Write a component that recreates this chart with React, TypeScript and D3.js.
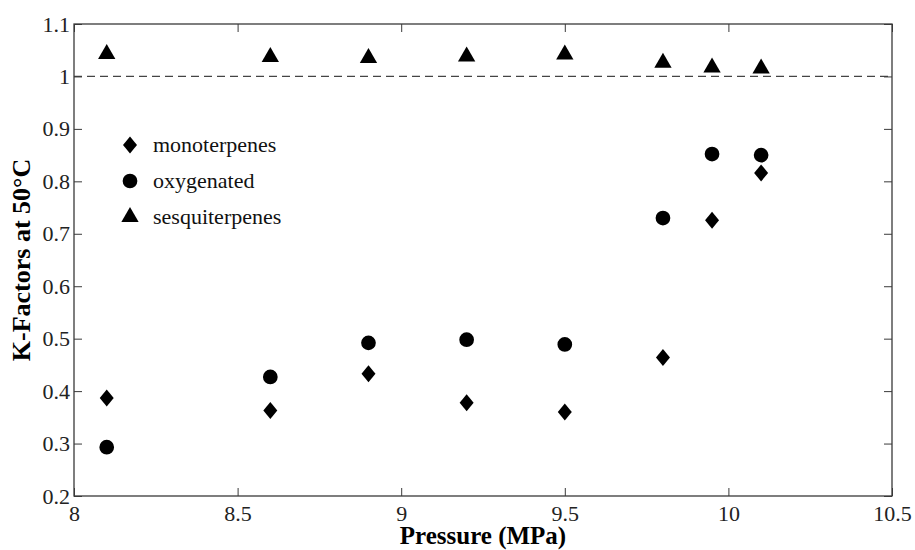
import { useEffect, useRef } from 'react';
import * as d3 from 'd3';

// pressure (MPa) for every measurement
const pressures = [8.1, 8.6, 8.9, 9.2, 9.5, 9.8, 9.95, 10.1];
const monoterpenes = [0.387, 0.363, 0.433, 0.378, 0.36, 0.464, 0.726, 0.816];
const oxygenated = [0.293, 0.427, 0.492, 0.498, 0.489, 0.73, 0.852, 0.85];
const sesquiterpenes = [1.043, 1.037, 1.035, 1.038, 1.042, 1.026, 1.017, 1.015];
const seriesNames = ['monoterpenes', 'oxygenated', 'sesquiterpenes'];
const xTicks = [8, 8.5, 9, 9.5, 10, 10.5];
const yTicks = [0.2, 0.3, 0.4, 0.5, 0.6, 0.7, 0.8, 0.9, 1, 1.1];

const App = () => {
  const svgRef = useRef<SVGSVGElement>(null);

  useEffect(() => {
    const svg = d3.select(svgRef.current);
    svg.selectAll('*').remove();

    const width = 915;
    const height = 550;
    const margin = { top: 24, right: 23, bottom: 54, left: 74 };
    const innerWidth = width - margin.left - margin.right;
    const innerHeight = height - margin.top - margin.bottom;
    const font = '"Liberation Serif", "Times New Roman", serif';
    const axisColor = '#3a3a3a';

    const x = d3.scaleLinear().domain([8, 10.5]).range([0, innerWidth]);
    const y = d3.scaleLinear().domain([0.2, 1.1]).range([innerHeight, 0]);

    svg.attr('width', width).attr('height', height).style('font-family', font);
    const g = svg.append('g').attr('transform', `translate(${margin.left},${margin.top})`);

    // dashed reference line at K = 1
    g.append('line')
      .attr('x1', 0).attr('x2', innerWidth)
      .attr('y1', y(1)).attr('y2', y(1))
      .attr('stroke', '#444').attr('stroke-width', 1.2)
      .attr('stroke-dasharray', '8,5');

    // ticks on all four sides, pointing in
    const tickLen = 8;
    const styleAxis = (sel: any) => {
      sel.attr('font-family', null);
      sel.select('.domain').remove();
      sel.selectAll('line').attr('stroke', axisColor);
      sel.selectAll('text').style('font-family', font).attr('font-size', 22).attr('fill', '#222');
    };
    g.append('g').attr('transform', `translate(0,${innerHeight})`)
      .call(d3.axisBottom(x).tickValues(xTicks).tickFormat(d3.format('')).tickSizeInner(-tickLen).tickSizeOuter(0).tickPadding(9))
      .call(styleAxis);
    g.append('g')
      .call(d3.axisTop(x).tickValues(xTicks).tickFormat(() => '').tickSizeInner(-tickLen).tickSizeOuter(0))
      .call(styleAxis);
    g.append('g')
      .call(d3.axisLeft(y).tickValues(yTicks).tickFormat(d3.format('')).tickSizeInner(-tickLen).tickSizeOuter(0).tickPadding(4))
      .call(styleAxis);
    g.append('g').attr('transform', `translate(${innerWidth},0)`)
      .call(d3.axisRight(y).tickValues(yTicks).tickFormat(() => '').tickSizeInner(-tickLen).tickSizeOuter(0))
      .call(styleAxis);

    g.append('rect')
      .attr('width', innerWidth).attr('height', innerHeight)
      .attr('fill', 'none').attr('stroke', axisColor).attr('stroke-width', 1.3);

    // diamond a bit taller than wide, like the reference markers
    const diamond = 'M0,-8.5L7,0L0,8.5L-7,0Z';
    const shapes = [
      diamond,
      d3.symbol().type(d3.symbolCircle).size(170)() as string,
      d3.symbol().type(d3.symbolTriangle).size(130)() as string,
    ];
    const allSeries = [monoterpenes, oxygenated, sesquiterpenes];

    allSeries.forEach((vals, i) => {
      g.append('g')
        .selectAll('path')
        .data(vals)
        .enter()
        .append('path')
        .attr('d', shapes[i])
        .attr('transform', (d, j) => `translate(${x(pressures[j])},${y(d)})`)
        .attr('fill', '#000');
    });

    // legend
    const legend = g.append('g').attr('transform', 'translate(56,121)');
    seriesNames.forEach((name, i) => {
      const row = legend.append('g').attr('transform', `translate(0,${i * 36})`);
      row.append('path').attr('d', shapes[i]).attr('fill', '#000');
      row.append('text')
        .attr('x', 23).attr('y', 7)
        .style('font-family', font).attr('font-size', 22)
        .attr('fill', '#111')
        .text(name);
    });

    // axis titles
    svg.append('text')
      .attr('x', margin.left + innerWidth / 2).attr('y', 544)
      .attr('text-anchor', 'middle')
      .style('font-family', font).attr('font-size', 25).attr('font-weight', 'bold')
      .text('Pressure (MPa)');
    svg.append('text')
      .attr('transform', `translate(30,${margin.top + innerHeight / 2}) rotate(-90)`)
      .attr('text-anchor', 'middle')
      .style('font-family', font).attr('font-size', 26).attr('font-weight', 'bold')
      .text('K-Factors at 50°C');
  }, []);

  return (
    <div style={{ position: 'absolute', left: 0, top: 0 }}>
      <svg ref={svgRef}></svg>
    </div>
  );
};

export default App;
